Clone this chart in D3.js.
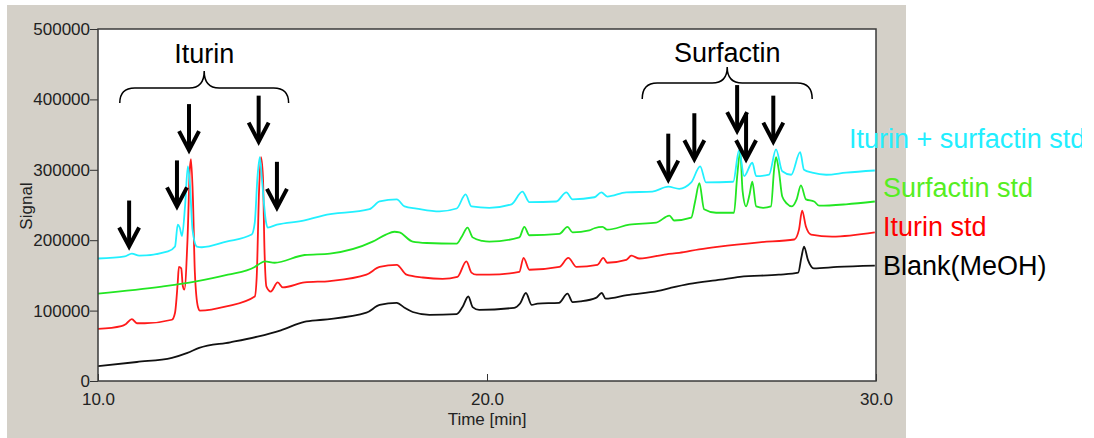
<!DOCTYPE html>
<html>
<head>
<meta charset="utf-8">
<script src="https://cdn.jsdelivr.net/npm/d3@7/dist/d3.min.js"></script>
<style>
  html, body { margin: 0; padding: 0; background: #ffffff; }
  svg { display: block; }
</style>
</head>
<body>
<svg id="chart" width="1094" height="438"></svg>
<script>
// Chromatogram traces: [retention time (min), signal]
const blankMeOH = [[10.0,21000],[11.0,27000],[11.9,33000],[12.3,40000],[12.6,47000],[13.4,55000],[14.1,63000],[14.7,72000],[15.3,84000],[15.78,87000],[16.9,97000],[17.24,108000],[17.68,111000],[17.88,104000],[18.09,98000],[18.52,94000],[19.22,95000],[19.37,105000],[19.52,120000],[19.63,105000],[19.8,101000],[20.7,104000],[20.85,110000],[21.0,125000],[21.15,108000],[21.3,110000],[21.85,111000],[22.07,124000],[22.2,112000],[22.4,113000],[22.8,118000],[22.95,125000],[23.05,117000],[23.6,122000],[24.4,128000],[24.7,132000],[25.2,138000],[26.0,144000],[26.5,148000],[27.5,151000],[28.0,154000],[28.08,175000],[28.15,191000],[28.25,172000],[28.4,160000],[29.0,162000],[29.97,164000]];

const iturinStd = [[10.0,74000],[10.6,78000],[10.72,81000],[10.87,88000],[11.0,82000],[11.2,82000],[11.9,87000],[11.98,97000],[12.05,140000],[12.08,162000],[12.14,160000],[12.18,135000],[12.22,130000],[12.3,200000],[12.36,300000],[12.39,315000],[12.44,260000],[12.49,154000],[12.57,105000],[12.62,100000],[13.3,106000],[14.03,120000],[14.08,148000],[14.14,270000],[14.19,318000],[14.24,290000],[14.28,186000],[14.33,134000],[14.44,127000],[14.62,140000],[14.75,133000],[15.31,140000],[15.96,142000],[16.9,151000],[17.24,162000],[17.68,165000],[17.93,151000],[18.35,147000],[18.86,145000],[19.24,148000],[19.47,170000],[19.6,154000],[19.73,151000],[20.06,151000],[20.83,155000],[20.94,175000],[21.09,158000],[21.86,162000],[22.09,175000],[22.3,162000],[22.84,165000],[22.99,175000],[23.09,168000],[23.58,172000],[23.71,178000],[23.92,174000],[24.61,180000],[24.94,182000],[25.45,187000],[25.97,191000],[27.0,197000],[27.9,201000],[28.02,215000],[28.1,242000],[28.2,219000],[28.33,208000],[28.87,205000],[29.97,211000]];

const surfactinStd = [[10.0,124000],[11.64,134000],[12.49,141000],[13.34,151000],[14.03,162000],[14.2,168000],[14.29,170000],[14.54,168000],[15.31,179000],[15.96,181000],[17.06,198000],[17.4,208000],[17.62,212000],[17.75,211000],[18.09,198000],[18.45,196000],[19.22,195000],[19.35,205000],[19.5,218000],[19.63,204000],[19.88,199000],[20.06,198000],[20.83,204000],[20.96,219000],[21.09,207000],[21.86,209000],[22.07,219000],[22.2,211000],[22.63,214000],[22.76,217000],[22.97,219000],[23.09,215000],[23.66,222000],[24.35,225000],[24.69,235000],[24.81,228000],[25.25,232000],[25.35,255000],[25.46,281000],[25.58,244000],[25.89,239000],[26.35,239000],[26.43,290000],[26.51,326000],[26.57,270000],[26.66,248000],[26.75,265000],[26.82,283000],[26.92,248000],[27.1,246000],[27.3,248000],[27.38,300000],[27.43,318000],[27.5,300000],[27.59,262000],[27.71,252000],[27.84,248000],[27.96,258000],[28.07,278000],[28.2,258000],[28.41,255000],[28.54,249000],[29.23,251000],[29.97,255000]];

const iturinSurfactinStd = [[10.0,174000],[10.69,177000],[10.87,181000],[11.06,178000],[11.8,184000],[11.98,191000],[12.05,222000],[12.1,218000],[12.16,206000],[12.24,250000],[12.31,305000],[12.36,283000],[12.43,215000],[12.54,191000],[12.67,190000],[13.3,198000],[13.95,208000],[14.03,225000],[14.1,290000],[14.16,318000],[14.22,283000],[14.31,229000],[14.36,218000],[14.6,222000],[15.31,228000],[15.78,235000],[16.98,244000],[17.24,255000],[17.68,258000],[17.88,248000],[18.19,245000],[18.78,241000],[19.22,245000],[19.45,265000],[19.6,248000],[20.06,246000],[20.63,251000],[20.91,269000],[21.09,254000],[21.78,255000],[22.04,268000],[22.2,258000],[22.76,261000],[22.94,268000],[23.09,262000],[23.58,268000],[24.25,269000],[24.66,276000],[24.94,273000],[25.25,282000],[25.48,305000],[25.63,282000],[26.33,283000],[26.48,328000],[26.61,291000],[26.82,310000],[26.92,291000],[27.25,293000],[27.43,329000],[27.59,298000],[27.82,293000],[28.05,325000],[28.15,300000],[28.36,296000],[28.72,293000],[29.23,296000],[29.97,299000]];

const seriesNames = ["Blank(MeOH)", "Iturin std", "Surfactin std", "Iturin + surfactin std"];

// Axis ticks
const timeTicks = [10, 20, 30];
const signalTicks = [0, 100000, 200000, 300000, 400000, 500000];

// Peaks marked with arrows: [time, signal at arrow tip]
const iturinArrows = [[10.80,191000],[12.03,248000],[12.34,328000],[14.13,340000],[14.60,246000]];
const surfactinArrows = [[24.66,286000],[25.33,315000],[26.43,355000],[26.66,315000],[27.36,340000]];

// Compound groups bracketed above the peaks
const groupLabels = ["Iturin", "Surfactin"];
const groupRanges = [[10.56, 14.90], [23.99, 28.36]];

const svg = d3.select("#chart");
const W = 1094, H = 438;
const plot = { left: 98, top: 29, right: 876, bottom: 381 };

// Window panel
svg.append("rect").attr("x", 7).attr("y", 5).attr("width", 899).attr("height", 433)
  .attr("fill", "#d4d0c8");
svg.append("rect").attr("x", plot.left).attr("y", plot.top)
  .attr("width", plot.right - plot.left).attr("height", plot.bottom - plot.top)
  .attr("fill", "#ffffff");

const x = d3.scaleLinear().domain([10, 30]).range([plot.left, plot.right]);
const y = d3.scaleLinear().domain([0, 500000]).range([plot.bottom, plot.top]);

const axisFont = "'Liberation Sans', Arial, sans-serif";

// Y axis
const yAxis = svg.append("g").attr("transform", `translate(${plot.left},0)`)
  .call(d3.axisLeft(y).tickValues(signalTicks).tickFormat(d3.format("d")).tickSize(8).tickPadding(0));
yAxis.select(".domain").remove();
yAxis.selectAll("line").attr("stroke", "#333");
yAxis.selectAll("text").attr("font-family", axisFont).attr("font-size", 17).attr("fill", "#222");

// X axis (ticks point inward)
const xAxis = svg.append("g").attr("transform", `translate(0,${plot.bottom})`)
  .call(d3.axisBottom(x).tickValues(timeTicks).tickFormat(d3.format(".1f")).tickSize(-7).tickPadding(12));
xAxis.select(".domain").remove();
xAxis.selectAll("line").attr("stroke", "#333");
xAxis.selectAll("text").attr("font-family", axisFont).attr("font-size", 17).attr("fill", "#222");

// Axis titles
svg.append("text").attr("x", (plot.left + plot.right) / 2).attr("y", 425)
  .attr("text-anchor", "middle").attr("font-family", axisFont).attr("font-size", 17).attr("fill", "#222")
  .text("Time [min]");
svg.append("text").attr("transform", `translate(32,206) rotate(-90)`)
  .attr("text-anchor", "middle").attr("font-family", axisFont).attr("font-size", 17).attr("fill", "#222")
  .text("Signal");

// Traces
svg.append("clipPath").attr("id", "plotClip").append("rect")
  .attr("x", plot.left).attr("y", plot.top)
  .attr("width", plot.right - plot.left).attr("height", plot.bottom - plot.top);

const line = d3.line().x(d => x(d[0])).y(d => y(d[1])).curve(d3.curveMonotoneX);
const traces = [
  { data: blankMeOH, color: "#111111" },
  { data: iturinStd, color: "#ff1a1a" },
  { data: surfactinStd, color: "#22e622" },
  { data: iturinSurfactinStd, color: "#22f0ff" }
];
const traceGroup = svg.append("g").attr("clip-path", "url(#plotClip)");
traces.forEach(t => {
  traceGroup.append("path").datum(t.data)
    .attr("d", line).attr("fill", "none")
    .attr("stroke", t.color).attr("stroke-width", 1.8)
    .attr("stroke-linejoin", "round");
});

// Plot frame
svg.append("rect").attr("x", plot.left).attr("y", plot.top)
  .attr("width", plot.right - plot.left).attr("height", plot.bottom - plot.top)
  .attr("fill", "none").attr("stroke", "#3a3a3a").attr("stroke-width", 1.5);

// Arrows
const arrowLen = 46, headW = 10, headH = 19;
const arrows = iturinArrows.concat(surfactinArrows);
const arrowG = svg.append("g").attr("stroke", "#000").attr("stroke-width", 4).attr("fill", "none");
arrows.forEach(a => {
  const ax = x(a[0]), ay = y(a[1]);
  arrowG.append("line").attr("x1", ax).attr("y1", ay - arrowLen).attr("x2", ax).attr("y2", ay - 2);
  arrowG.append("path")
    .attr("d", `M${ax - headW},${ay - headH} L${ax},${ay} L${ax + headW},${ay - headH}`)
    .attr("stroke-linejoin", "miter").attr("stroke-linecap", "butt");
});

// Braces with group labels
const braceRows = [{ end: 103, mid: 88, tip: 71, base: 63 }, { end: 99, mid: 83, tip: 67, base: 62 }];
groupRanges.forEach((r, i) => {
  const x0 = x(r[0]), x1 = x(r[1]), xm = (x0 + x1) / 2, b = braceRows[i], rr = 15;
  svg.append("path")
    .attr("d", `M${x0},${b.end} Q${x0},${b.mid} ${x0 + rr},${b.mid} L${xm - rr},${b.mid} Q${xm},${b.mid} ${xm},${b.tip} Q${xm},${b.mid} ${xm + rr},${b.mid} L${x1 - rr},${b.mid} Q${x1},${b.mid} ${x1},${b.end}`)
    .attr("fill", "none").attr("stroke", "#000").attr("stroke-width", 1.5);
  svg.append("text").attr("x", xm).attr("y", b.base).attr("text-anchor", "middle")
    .attr("font-family", axisFont).attr("font-size", 27).attr("fill", "#000")
    .text(groupLabels[i]);
});

// Trace labels on the right
svg.append("clipPath").attr("id", "labelClip").append("rect")
  .attr("x", 0).attr("y", 0).attr("width", 1082).attr("height", H);
const labelG = svg.append("g").attr("clip-path", "url(#labelClip)")
  .attr("font-family", axisFont).attr("font-size", 27);
const labelSpots = [
  { x: 883, y: 275, color: "#000000" },
  { x: 883, y: 236, color: "#ff0000" },
  { x: 883, y: 197, color: "#55ee22" },
  { x: 849, y: 148, color: "#22eeff" }
];
seriesNames.forEach((name, i) => {
  labelG.append("text").attr("x", labelSpots[i].x).attr("y", labelSpots[i].y)
    .attr("fill", labelSpots[i].color).text(name);
});
</script>
</body>
</html>
